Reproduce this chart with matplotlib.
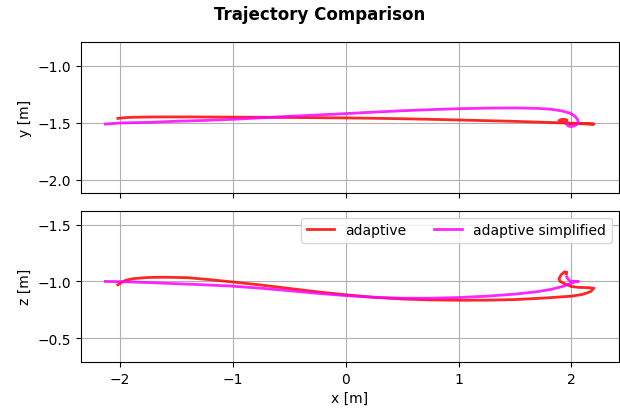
import matplotlib
matplotlib.use('Agg')
import matplotlib.pyplot as plt

# adaptive trajectory (x, y, z in metres)
ad_x = [-2.02, -1.99, -1.95, -1.88, -1.75, -1.6, -1.4, -1.2, -1.0, -0.75, -0.5, -0.25,
        0.0, 0.25, 0.5, 0.75, 1.0, 1.25, 1.5, 1.75, 2.0, 2.1, 2.17, 2.2,
        2.15, 2.06, 2.0, 1.95, 1.9, 1.89, 1.91, 1.94, 1.96, 1.955]
ad_y = [-1.46, -1.457, -1.453, -1.45, -1.448, -1.447, -1.447, -1.448, -1.449, -1.45, -1.452, -1.454,
        -1.456, -1.459, -1.463, -1.468, -1.474, -1.48, -1.486, -1.494, -1.502, -1.506, -1.509, -1.51,
        -1.508, -1.506, -1.504, -1.50, -1.49, -1.48, -1.47, -1.468, -1.475, -1.485]
ad_z = [-0.97, -0.99, -1.01, -1.025, -1.035, -1.037, -1.033, -1.015, -0.995, -0.968, -0.938, -0.908,
        -0.882, -0.86, -0.845, -0.837, -0.834, -0.835, -0.84, -0.853, -0.87, -0.886, -0.91, -0.94,
        -0.945, -0.948, -0.955, -0.975, -1.0, -1.025, -1.06, -1.085, -1.08, -1.065]

# adaptive simplified trajectory
sim_x = [-2.13, -2.0, -1.75, -1.5, -1.25, -1.0, -0.75, -0.5, -0.25, 0.0, 0.25, 0.5,
         0.75, 1.0, 1.25, 1.5, 1.7, 1.82, 1.92, 1.99, 2.03, 2.055, 2.06, 2.045,
         2.02, 1.99, 1.97, 1.96]
sim_y = [-1.51, -1.50, -1.495, -1.485, -1.478, -1.468, -1.455, -1.442, -1.43, -1.418, -1.405, -1.393,
         -1.383, -1.375, -1.37, -1.368, -1.372, -1.38, -1.395, -1.415, -1.44, -1.47, -1.495, -1.515,
         -1.528, -1.532, -1.525, -1.51]
sim_z = [-1.0, -0.998, -0.99, -0.98, -0.97, -0.958, -0.94, -0.918, -0.895, -0.875, -0.86, -0.852,
         -0.852, -0.858, -0.87, -0.888, -0.91, -0.93, -0.955, -0.98, -0.995, -1.0, -1.0, -1.0,
         -1.0, -1.003, -1.02, -1.04]

fig, (ax1, ax2) = plt.subplots(2, 1, sharex=True, figsize=(6.2, 4.1), dpi=100)
fig.subplots_adjust(left=0.130, right=0.998, top=0.895, bottom=0.115, hspace=0.115)

ax1.plot(ad_x, ad_y, color='red', lw=2, alpha=0.85, label='adaptive')
ax1.plot(sim_x, sim_y, color='magenta', lw=2, alpha=0.85, label='adaptive simplified')
ax1.set_ylabel('y [m]')
ax1.set_ylim(-2.117, -0.79)
ax1.grid(True)

ax2.plot(ad_x, ad_z, color='red', lw=2, alpha=0.85, label='adaptive')
ax2.plot(sim_x, sim_z, color='magenta', lw=2, alpha=0.85, label='adaptive simplified')
ax2.set_ylabel('z [m]')
ax2.set_xlabel('x [m]')
ax2.set_ylim(-0.291, -1.624)
ax2.set_xlim(-2.35, 2.42)
ax2.grid(True)
ax2.legend(loc='upper right', ncol=2)

fig.suptitle('Trajectory Comparison', fontweight='bold', x=0.515, y=0.985)
fig.savefig('out.png')
